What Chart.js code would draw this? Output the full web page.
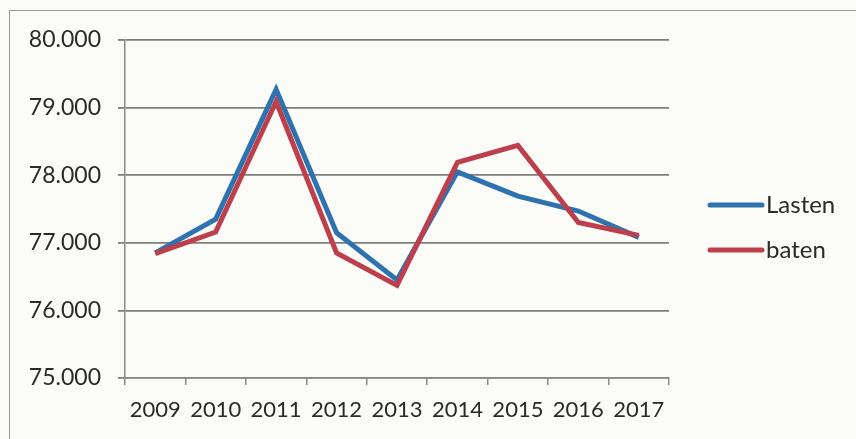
<!DOCTYPE html>
<html>
<head>
<meta charset="utf-8">
<script src="https://cdn.jsdelivr.net/npm/chart.js@4/dist/chart.umd.min.js"></script>
<style>
  html, body { margin: 0; padding: 0; background: #fbfbf7; }
  #wrap { position: relative; width: 856px; height: 439px; overflow: hidden; }
  #frame { position: absolute; left: 9px; top: 10px; width: 900px; height: 500px;
           border: 1.5px solid #9a9a9a; box-sizing: border-box; }
  canvas { position: absolute; left: 0; top: 0; }
</style>
</head>
<body>
<div id="wrap">
  <div id="frame"></div>
  <canvas id="chart1" width="856" height="439"></canvas>
</div>
<script>
var years = ['2009', '2010', '2011', '2012', '2013', '2014', '2015', '2016', '2017'];
var lasten = [76850, 77350, 79270, 77150, 76450, 78050, 77690, 77470, 77080];
var baten = [76840, 77160, 79090, 76850, 76370, 78190, 78440, 77300, 77110];
var seriesNames = ['Lasten', 'baten'];
var seriesColors = ['#2f72b0', '#bd3f4b'];

function dotted(v) {
    return String(v).replace(/\B(?=(\d{3})+(?!\d))/g, '.');
}

// legend drawn by hand so the line sample sits like the original
var sideLegend = {
    id: 'sideLegend',
    afterDraw: function(chart) {
        var c = chart.ctx;
        c.save();
        chart.data.datasets.forEach(function(ds, i) {
            var y = 205 + i * 45;
            c.strokeStyle = ds.borderColor;
            c.lineWidth = 5;
            c.lineCap = 'round';
            c.beginPath();
            c.moveTo(710, y);
            c.lineTo(762, y);
            c.stroke();
            c.fillStyle = '#2a2a2a';
            c.font = '24px Lato';
            c.textBaseline = 'middle';
            c.textAlign = 'left';
            c.fillText(ds.label, 766, y);
        });
        c.restore();
    }
};

var ctx1 = document.getElementById('chart1').getContext('2d');
var chart1 = new Chart(ctx1, {
    type: 'line',
    data: {
        labels: years,
        datasets: [{
            label: seriesNames[0],
            data: lasten,
            borderColor: seriesColors[0],
            borderWidth: 5,
            pointRadius: 0,
            tension: 0,
            order: 1
        }, {
            label: seriesNames[1],
            data: baten,
            borderColor: seriesColors[1],
            borderWidth: 5,
            pointRadius: 0,
            tension: 0,
            order: 0
        }]
    },
    options: {
        responsive: false,
        animation: false,
        layout: { padding: { left: 0, top: 40, right: 187, bottom: 0 } },
        plugins: {
            legend: { display: false },
            tooltip: { enabled: false }
        },
        scales: {
            x: {
                offset: true,
                grid: {
                    offset: true,
                    drawOnChartArea: false,
                    drawTicks: true,
                    tickLength: 7,
                    color: '#8a8a8a',
                    lineWidth: 1.5
                },
                border: { color: '#8a8a8a', width: 1.5 },
                ticks: {
                    color: '#2a2a2a',
                    font: { family: 'Lato', size: 22 },
                    padding: 12,
                    maxRotation: 0,
                    autoSkip: false
                },
                afterFit: function(scale) { scale.height = 61; }
            },
            y: {
                min: 75000,
                max: 80000,
                grid: {
                    color: '#7e7e7e',
                    lineWidth: 1.8,
                    tickLength: 7
                },
                border: { color: '#8a8a8a', width: 1.5 },
                ticks: {
                    stepSize: 1000,
                    color: '#2a2a2a',
                    font: { family: 'Lato', size: 23 },
                    padding: 17,
                    callback: function(v) { return dotted(v); }
                },
                afterFit: function(scale) { scale.width = 125; }
            }
        }
    },
    plugins: [sideLegend]
});
</script>
</body>
</html>
